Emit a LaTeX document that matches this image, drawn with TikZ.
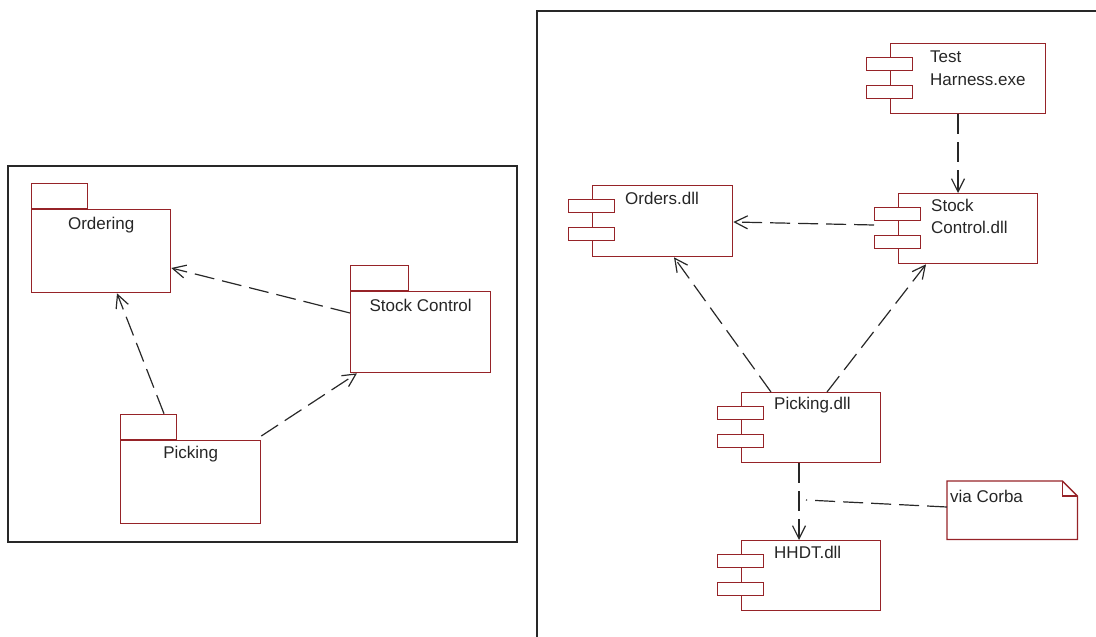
\documentclass[tikz,border=0pt]{standalone}
\usepackage{fontspec}
\setmainfont{Liberation Sans}
\usetikzlibrary{arrows.meta,calc}
\definecolor{boxred}{RGB}{150,35,40}
\definecolor{linegray}{RGB}{40,40,40}
\newcommand\mycomp[5]{%
  \node[box, minimum width=#4pt, minimum height=#5pt] (#1) at (#2,#3) {};
  \node[stub] (#1s1) at ($(#1.north west)+(-24,14)$) {};
  \node[stub] (#1s2) at ($(#1.north west)+(-24,42)$) {};
}
\newcommand\mypkg[6]{%
  \node[box, minimum width=#4pt, minimum height=#5pt] (#1) at (#2,#3) {};
  \node[box, minimum width=#6pt, minimum height=25pt, anchor=south west] (#1t) at (#1.north west) {};
}
\begin{document}
\begin{tikzpicture}[x=1pt,y=-1pt,
  box/.style={draw=boxred, line width=1.3pt, inner sep=0pt, anchor=north west},
  stub/.style={box, fill=white, minimum width=46pt, minimum height=13pt},
  frame/.style={draw=linegray, line width=1.3pt},
  lbl/.style={inner sep=0pt, font=\fontsize{17}{21}\selectfont, text=black!85},
  dep/.style={draw=linegray, line width=1.2pt, dash pattern=on 20pt off 8pt,
    -{Straight Barb[length=13pt,width=13pt,line width=1.2pt]}},
  nline/.style={draw=linegray, line width=1.2pt, dash pattern=on 20pt off 8pt}
]
\useasboundingbox (0,0) rectangle (1096,637);
% frames
\draw[frame] (8,166) rectangle (517,542);
\draw[frame] (537,637) -- (537,11) -- (1096,11);

% packages
\mypkg{ord}{31}{209}{139}{83}{56}
\mypkg{stk}{350}{291}{140}{81}{58}
\mypkg{pic}{120}{440}{140}{83}{56}
\node[lbl, anchor=base] (ordl) at ($(ord.north)+(0,20)$) {Ordering};
\node[lbl, anchor=base] (stkl) at ($(stk.north)+(0,20)$) {Stock Control};
\node[lbl, anchor=base] (picl) at ($(pic.north)+(0,18)$) {Picking};

\draw[dep] ($(stk.north west)+(0,22)$) -- ($(ord.north east)+(0,59)$);
\draw[dep] ($(pict.north west)+(44,0)$) -- ($(ord.south west)+(86,0)$);
\draw[dep] ($(pic.north east)+(0,-4)$) -- ($(stk.south west)+(7,0)$);

% components
\mycomp{th}{890}{43}{155}{70}
\mycomp{odl}{592}{185}{140}{71}
\mycomp{sc}{898}{193}{139}{70}
\mycomp{pk}{741}{392}{139}{70}
\mycomp{hh}{741}{540}{139}{70}
\node[lbl, anchor=base west] (thl1) at ($(th.north west)+(40,19)$) {Test};
\node[lbl, anchor=base west] (thl2) at ($(th.north west)+(40,42)$) {Harness.exe};
\node[lbl, anchor=base west] (odll) at ($(odl.north west)+(33,19)$) {Orders.dll};
\node[lbl, anchor=base west] (scl1) at ($(sc.north west)+(33,18)$) {Stock};
\node[lbl, anchor=base west] (scl2) at ($(sc.north west)+(33,40)$) {Control.dll};
\node[lbl, anchor=base west] (pkl) at ($(pk.north west)+(33,17)$) {Picking.dll};
\node[lbl, anchor=base west] (hhl) at ($(hh.north west)+(33,18)$) {HHDT.dll};

% note
\node[inner sep=0pt, anchor=north west, minimum width=130pt, minimum height=58pt] (note) at (947,481) {};
\draw[boxred, line width=1.3pt] (note.north west) -- ($(note.north east)+(-15,0)$) -- ($(note.north east)+(0,15)$) -- (note.south east) -- (note.south west) -- cycle;
\draw[boxred, line width=1.3pt] ($(note.north east)+(-15,0)$) -- ($(note.north east)+(-15,15)$) -- ($(note.north east)+(0,15)$);
\node[lbl, anchor=base west] (notel) at ($(note.north west)+(3,21)$) {via Corba};

\draw[dep] ($(th.south west)+(68,0)$) -- ($(sc.north west)+(60,0)$);
\draw[dep] ($(sc.north west)+(-24,32)$) -- ($(odl.north east)+(0,37)$);
\draw[dep] ($(pk.north west)+(30,0)$) -- ($(odl.south west)+(82,0)$);
\draw[dep] ($(pk.north west)+(86,0)$) -- ($(sc.south west)+(28,0)$);
\draw[dep] ($(pk.south west)+(58,0)$) -- ($(hh.north west)+(58,0)$);
\coordinate (nc) at (806,500);
\draw[nline] ($(note.north west)+(0,26)$) -- (nc);
\end{tikzpicture}
\end{document}
